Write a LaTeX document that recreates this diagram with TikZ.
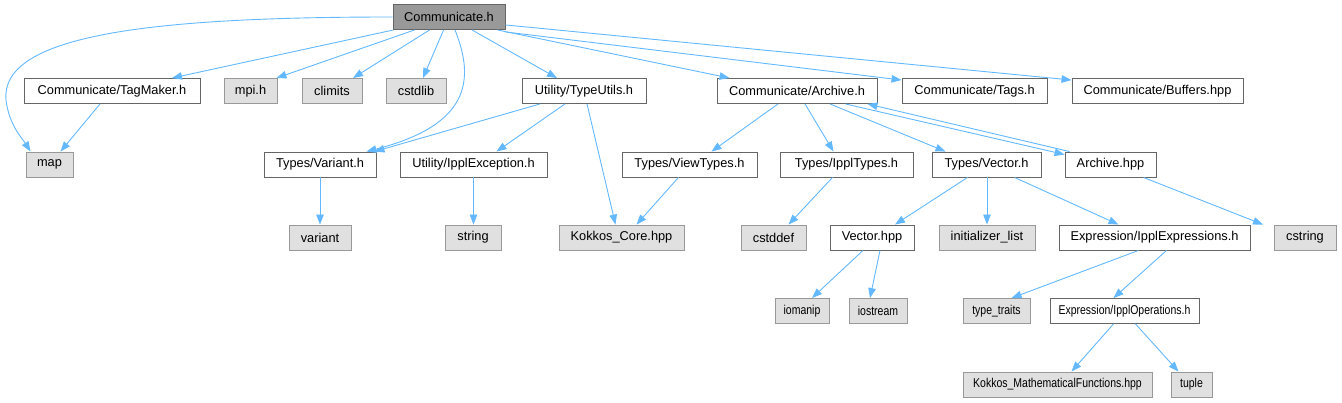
\documentclass[tikz,border=0pt]{standalone}
\usepackage{graphicx}
\usepackage{fontspec}
\setmainfont{Liberation Sans}
\usetikzlibrary{arrows.meta}
\definecolor{edgec}{HTML}{63B8FF}
\definecolor{wborder}{HTML}{666666}
\definecolor{gborder}{HTML}{999999}
\definecolor{gfill}{HTML}{E0E0E0}
\definecolor{rootfill}{HTML}{999999}
\newcommand{\narrowtxt}[1]{\scalebox{0.82}[1]{#1}}
\tikzset{
  base/.style={rectangle, inner sep=0pt, minimum height=25pt, line width=0.9pt, font=\fontsize{12.8}{15}\selectfont, text=black},
  wbox/.style={base, draw=wborder, fill=white},
  gbox/.style={base, draw=gborder, fill=gfill},
  rootbox/.style={base, draw=wborder, fill=rootfill},
  edge/.style={draw=edgec, line width=0.9pt, -{Triangle[length=10pt,width=7.5pt]}},
}
\begin{document}
\begin{tikzpicture}[x=1pt,y=-1pt]
\useasboundingbox (0,0) rectangle (1342,403);
% row 0
\node[rootbox, minimum width=112pt] (comm) at (449,17) {Communicate.h};
% row 1
\node[wbox, minimum width=176pt] (tagmaker) at (112,91) {Communicate/TagMaker.h};
\node[gbox, minimum width=53pt] (mpi) at (250.5,91) {mpi.h};
\node[gbox, minimum width=60pt] (climits) at (332,91) {climits};
\node[gbox, minimum width=60pt] (cstdlib) at (416,91) {cstdlib};
\node[wbox, minimum width=124pt] (typeutils) at (584,91) {Utility/TypeUtils.h};
\node[wbox, minimum width=160pt] (archiveh) at (797,91) {Communicate/Archive.h};
\node[wbox, minimum width=145pt] (tags) at (974.5,91) {Communicate/Tags.h};
\node[wbox, minimum width=171pt] (buffers) at (1157.5,91) {Communicate/Buffers.hpp};
% row 2
\node[gbox, minimum width=47pt] (map) at (49.5,164.5) {map};
\node[wbox, minimum width=112pt] (variantH) at (320,164.5) {Types/Variant.h};
\node[wbox, minimum width=147pt] (ipplexc) at (473.5,164.5) {Utility/IpplException.h};
\node[wbox, minimum width=135pt] (viewtypes) at (689.5,164.5) {Types/ViewTypes.h};
\node[wbox, minimum width=133pt] (ippltypes) at (846.5,164.5) {Types/IpplTypes.h};
\node[wbox, minimum width=109pt] (typesvector) at (986.5,164.5) {Types/Vector.h};
\node[wbox, minimum width=91pt] (archivehpp) at (1110.5,164.5) {Archive.hpp};
% row 3
\node[gbox, minimum width=62pt] (variant) at (320,237.5) {variant};
\node[gbox, minimum width=56pt] (string) at (473,237.5) {string};
\node[gbox, minimum width=125pt] (kokkoscore) at (621.5,237.5) {Kokkos\_Core.hpp};
\node[gbox, minimum width=65pt] (cstddef) at (773.5,237.5) {cstddef};
\node[wbox, minimum width=84pt] (vectorhpp) at (872,237.5) {Vector.hpp};
\node[gbox, minimum width=96pt] (initlist) at (987,237.5) {initializer\_list};
\node[wbox, minimum width=191pt] (ipplexpr) at (1154.5,237.5) {Expression/IpplExpressions.h};
\node[gbox, minimum width=62pt] (cstring) at (1305,237.5) {cstring};
% row 4
\node[gbox, minimum width=54pt] (iomanip) at (802,311) {\narrowtxt{iomanip}};
\node[gbox, minimum width=58pt] (iostream) at (878,311) {\narrowtxt{iostream}};
\node[gbox, minimum width=67pt] (typetraits) at (996.5,311) {\narrowtxt{type\_traits}};
\node[wbox, minimum width=149pt] (ippops) at (1124.5,311) {\narrowtxt{Expression/IpplOperations.h}};
% row 5
\node[gbox, minimum width=189pt] (kokkosmath) at (1057.5,384.5) {\narrowtxt{Kokkos\_MathematicalFunctions.hpp}};
\node[gbox, minimum width=41pt] (tuple) at (1191.5,384.5) {\narrowtxt{tuple}};

% edges from Communicate.h
\draw[edge] (comm.west) .. controls (150,17) and (0,35) .. (6,100) .. controls (9,125) and (22,138) .. ([xshift=-19]map.north);
\draw[edge] ([xshift=1]comm.south west) -- ([xshift=60]tagmaker.north);
\draw[edge] ([xshift=22]comm.south west) -- ([xshift=-1]mpi.north east);
\draw[edge] ([xshift=37]comm.south west) -- ([xshift=21]climits.north);
\draw[edge] ([xshift=51]comm.south west) -- ([xshift=7]cstdlib.north);
\draw[edge] ([xshift=6]comm.south) .. controls (475,80) and (470,125) .. ([xshift=-10]variantH.north east);
\draw[edge] ([xshift=23]comm.south) -- ([xshift=-27]typeutils.north);
\draw[edge] ([xshift=-8]comm.south east) -- ([xshift=13]archiveh.north west);
\draw[edge] ([yshift=-2]comm.south east) -- ([yshift=-2]tags.north west);
\draw[edge] ([yshift=5]comm.south east) -- ([yshift=-2]buffers.north west);
% row1 -> row2
\draw[edge] ([xshift=-12]tagmaker.south) -- ([xshift=11]map.north);
\draw[edge] ([xshift=-44]typeutils.south) -- ([xshift=-2]variantH.north east);
\draw[edge] ([xshift=-19]typeutils.south) -- ([xshift=23]ipplexc.north);
\draw[edge] ([xshift=3]typeutils.south) -- ([xshift=-6]kokkoscore.north);
\draw[edge] ([xshift=-19]archiveh.south) -- ([xshift=22]viewtypes.north);
\draw[edge] ([xshift=8]archiveh.south) -- ([xshift=-13]ippltypes.north);
\draw[edge] ([xshift=33]archiveh.south) -- ([xshift=-41]typesvector.north);
\draw[edge] ([xshift=-32]archiveh.south east) -- ([yshift=-3]archivehpp.north west);
\draw[edge] ([xshift=5]archivehpp.north west) -- ([xshift=-10]archiveh.south east);
% row2 -> row3
\draw[edge] (variantH.south) -- (variant.north);
\draw[edge] (ipplexc.south) -- ([xshift=0.5]string.north);
\draw[edge] ([xshift=-11]viewtypes.south) -- ([xshift=15]kokkoscore.north);
\draw[edge] ([xshift=-14]ippltypes.south) -- ([xshift=15]cstddef.north);
\draw[edge] ([xshift=-19]typesvector.south) -- ([xshift=23]vectorhpp.north);
\draw[edge] ([xshift=0.5]typesvector.south) -- (initlist.north);
\draw[edge] ([xshift=28]typesvector.south) -- ([xshift=-36]ipplexpr.north);
\draw[edge] ([xshift=33]archivehpp.south) -- ([xshift=-42]cstring.north);
% row3 -> row4
\draw[edge] ([xshift=-9]vectorhpp.south) -- ([xshift=10]iomanip.north);
\draw[edge] ([xshift=8]vectorhpp.south) -- ([xshift=-8]iostream.north);
\draw[edge] ([xshift=-16]ipplexpr.south) -- ([xshift=15]typetraits.north);
\draw[edge] ([xshift=12]ipplexpr.south) -- ([xshift=-11]ippops.north);
% row4 -> row5
\draw[edge] ([xshift=-11]ippops.south) -- ([xshift=14]kokkosmath.north);
\draw[edge] ([xshift=11]ippops.south) -- ([xshift=-13]tuple.north);
\end{tikzpicture}
\end{document}
